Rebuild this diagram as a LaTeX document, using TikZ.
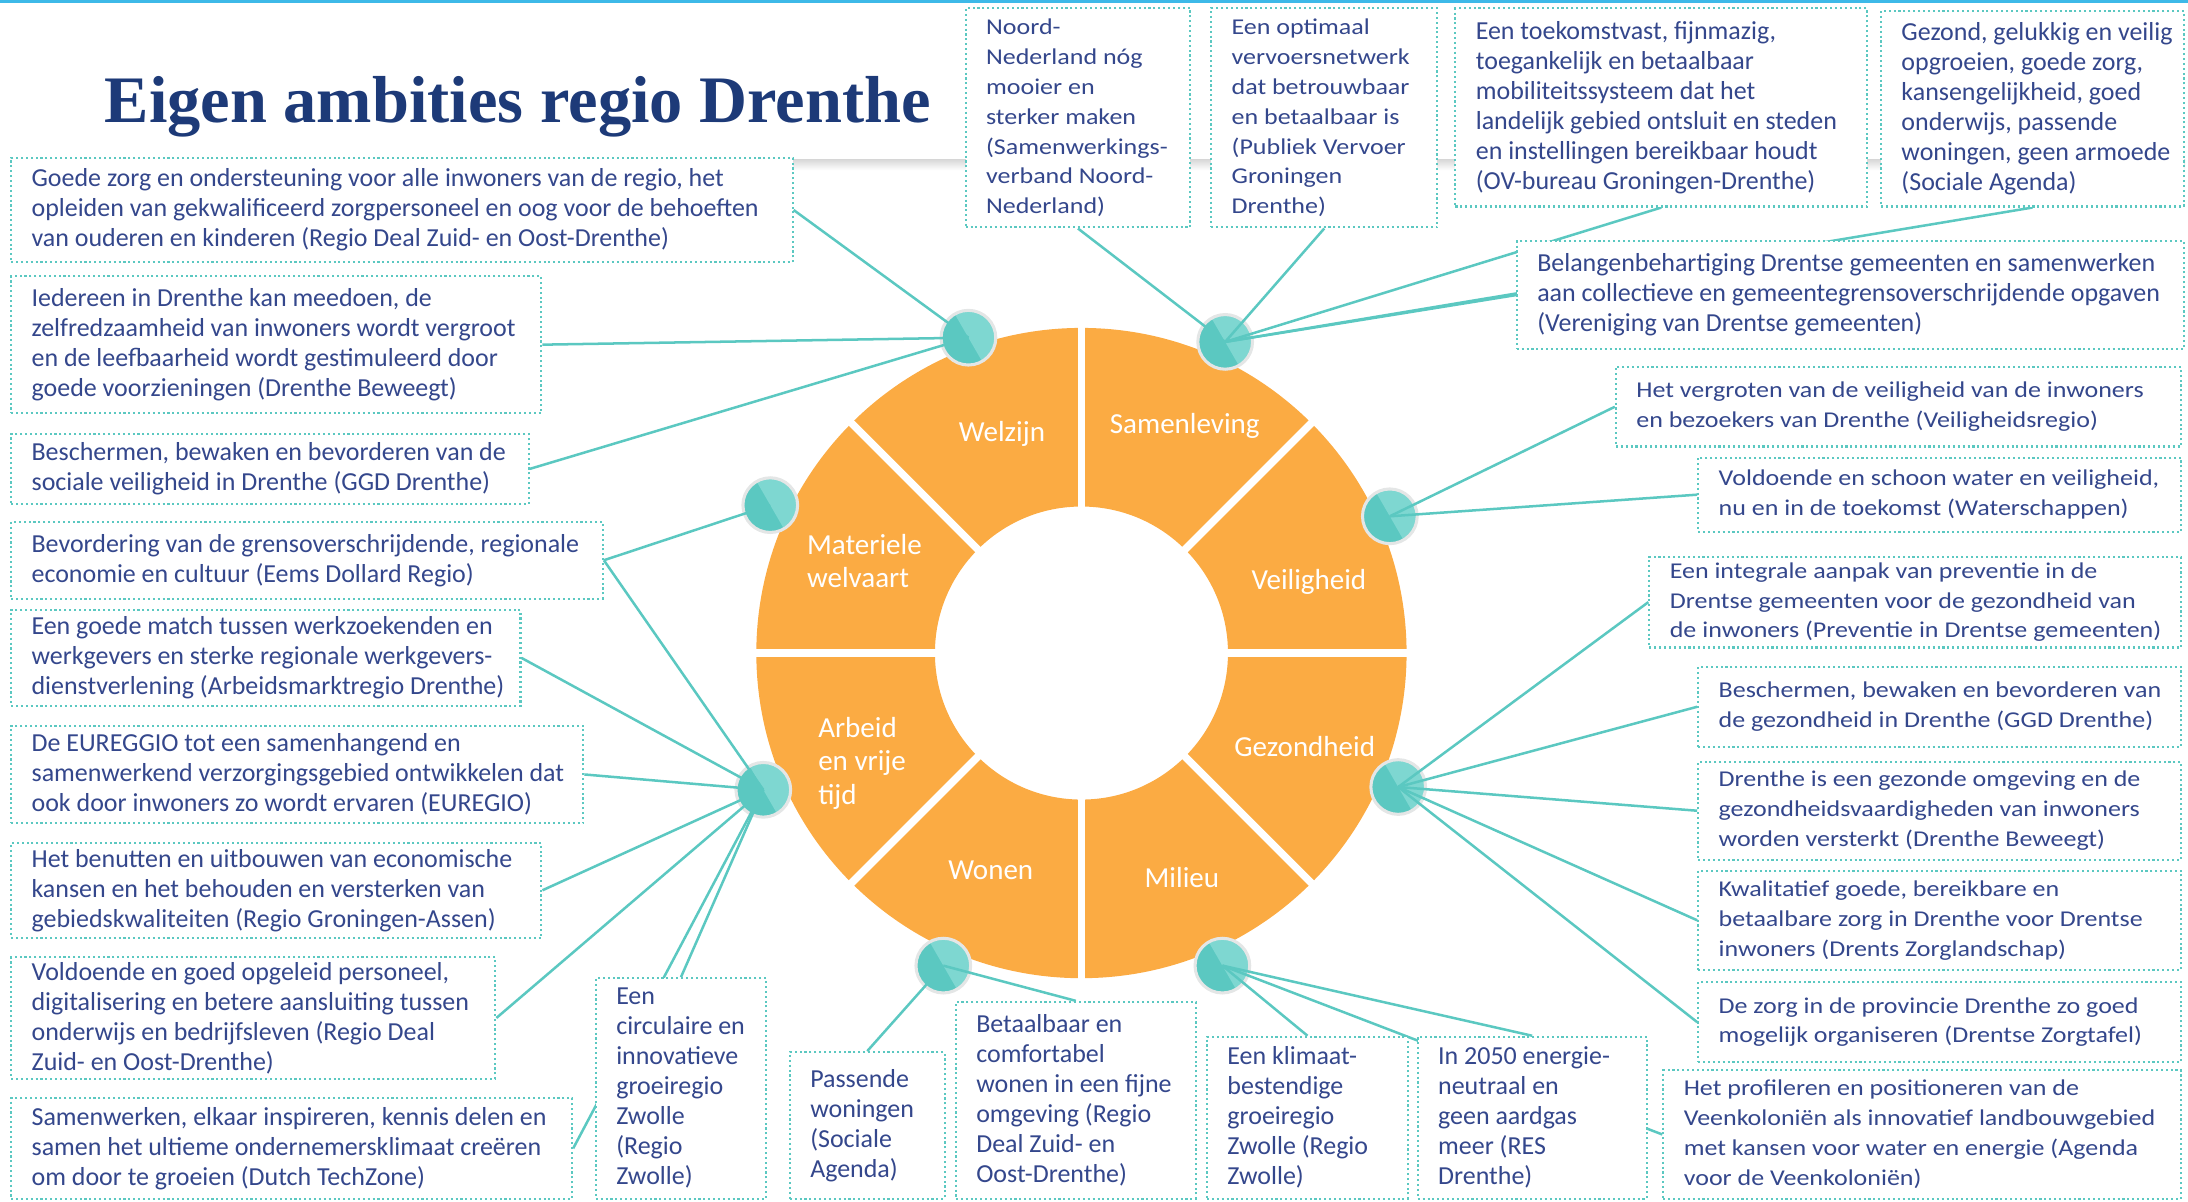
\documentclass[tikz,border=0pt]{standalone}
\usepackage{fontspec}
\setmainfont{Carlito}
\newfontfamily\widefont[FakeStretch=1.15]{Carlito}
\newfontfamily\titlefont{Liberation Serif}
\usetikzlibrary{calc}
\definecolor{tealc}{HTML}{5BC8C1}
\definecolor{teall}{HTML}{7ED7D1}
\definecolor{orangec}{HTML}{FBAB43}
\definecolor{navy}{HTML}{34478C}
\definecolor{titleblue}{HTML}{1D3A78}
\definecolor{topline}{HTML}{3DB9E8}
\definecolor{ringc}{HTML}{E4E6E6}
\pgfdeclarelayer{bg}
\pgfdeclarelayer{lines}
\pgfsetlayers{bg,lines,main}
\tikzset{
 box/.style={draw=tealc, line width=0.75pt, dash pattern=on 0.75pt off 1pt, fill=white, inner sep=0pt},
 txt/.style={text=navy, align=left, inner sep=0pt, anchor=west},
 cond/.style={font=\fontsize{9.3}{10.75}\selectfont},
 wide/.style={font=\widefont\fontsize{8.1}{10.7}\selectfont},
 conn/.style={draw=tealc, line width=0.9pt},
 hub/.style={circle, minimum size=19pt, inner sep=0pt, fill=tealc},
 seg/.style={text=white, font=\fontsize{10.4}{12}\selectfont, align=left, inner sep=0pt},
}
\newcommand\mybox[7]{%
 \pgfmathsetmacro\bxw{(#4-#2)*0.5}%
 \pgfmathsetmacro\bxh{(#5-#3)*0.5}%
 \node[box, minimum width=\bxw pt, minimum height=\bxh pt] (#1) at ({(#2+#4)/2},{(#3+#5)/2}) {};
 \node[txt,#6] (#1-t) at ([xshift=7.5pt]#1.west) {#7};}
\newcommand\hubat[3]{%
 \node[hub] (#1) at (#2,#3) {};
 \fill[teall] (#1.center) -- ++(-60:9.5pt) arc[start angle=-60, end angle=120, radius=9.5pt] -- cycle;
 \draw[ringc, line width=1.1pt] (#1.center) circle (9.8pt);}
\begin{document}
\begin{tikzpicture}[x=0.5pt, y=-0.5pt]
\useasboundingbox (0,0) rectangle (1568,861);
% ---------- boxes ----------
\mybox{N1}{692}{6}{853}{163}{wide}{Noord-\\Nederland nóg\\mooier en\\sterker maken\\(Samenwerkings-\\verband Noord-\\Nederland)}
\mybox{N2}{868}{6}{1030}{163}{wide}{Een optimaal\\vervoersnetwerk\\dat betrouwbaar\\en betaalbaar is\\(Publiek Vervoer\\Groningen\\Drenthe)}
\mybox{N3}{1043}{6}{1338}{148}{cond}{Een toekomstvast, fijnmazig,\\toegankelijk en betaalbaar\\mobiliteitssysteem dat het\\landelijk gebied ontsluit en steden\\en instellingen bereikbaar houdt\\(OV-bureau Groningen-Drenthe)}
\mybox{N4}{1348}{8}{1565}{148}{cond}{Gezond, gelukkig en veilig\\opgroeien, goede zorg,\\kansengelijkheid, goed\\onderwijs, passende\\woningen, geen armoede\\(Sociale Agenda)}
\mybox{N5}{1087}{173}{1565}{250}{cond}{Belangenbehartiging Drentse gemeenten en samenwerken\\aan collectieve en gemeentegrensoverschrijdende opgaven\\(Vereniging van Drentse gemeenten)}
\mybox{R1}{1158}{263}{1563}{320}{wide}{Het vergroten van de veiligheid van de inwoners\\en bezoekers van Drenthe (Veiligheidsregio)}
\mybox{R2}{1217}{328}{1563}{381}{wide}{Voldoende en schoon water en veiligheid,\\nu en in de toekomst (Waterschappen)}
\mybox{R3}{1182}{399}{1563}{464}{wide}{Een integrale aanpak van preventie in de\\Drentse gemeenten voor de gezondheid van\\de inwoners (Preventie in Drentse gemeenten)}
\mybox{R4}{1217}{478}{1563}{535}{wide}{Beschermen, bewaken en bevorderen van\\de gezondheid in Drenthe (GGD Drenthe)}
\mybox{R5}{1217}{546}{1563}{616}{wide}{Drenthe is een gezonde omgeving en de\\gezondheidsvaardigheden van inwoners\\worden versterkt (Drenthe Beweegt)}
\mybox{R6}{1217}{624}{1563}{695}{wide}{Kwalitatief goede, bereikbare en\\betaalbare zorg in Drenthe voor Drentse\\inwoners (Drents Zorglandschap)}
\mybox{R7}{1217}{704}{1563}{761}{wide}{De zorg in de provincie Drenthe zo goed\\mogelijk organiseren (Drentse Zorgtafel)}
\mybox{R8}{1192}{767}{1563}{859}{wide}{Het profileren en positioneren van de\\Veenkoloniën als innovatief landbouwgebied\\met kansen voor water en energie (Agenda\\voor de Veenkoloniën)}
\mybox{B1}{1016}{743}{1180}{859}{cond}{In 2050 energie-\\neutraal en\\geen aardgas\\meer (RES\\Drenthe)}
\mybox{B2}{865}{743}{1009}{859}{cond}{Een klimaat-\\bestendige\\groeiregio\\Zwolle (Regio\\Zwolle)}
\mybox{B3}{685}{718}{857}{859}{cond}{Betaalbaar en\\comfortabel\\wonen in een fijne\\omgeving (Regio\\Deal Zuid- en\\Oost-Drenthe)}
\mybox{B4}{566}{754}{677}{859}{cond}{Passende\\woningen\\(Sociale\\Agenda)}
\mybox{B5}{427}{701}{549}{859}{cond}{Een\\circulaire en\\innovatieve\\groeiregio\\Zwolle\\(Regio\\Zwolle)}
\mybox{L1}{8}{787}{410}{859}{cond}{Samenwerken, elkaar inspireren, kennis delen en\\samen het ultieme ondernemersklimaat creëren\\om door te groeien (Dutch TechZone)}
\mybox{L2}{8}{686}{355}{773}{cond}{Voldoende en goed opgeleid personeel,\\digitalisering en betere aansluiting tussen\\onderwijs en bedrijfsleven (Regio Deal\\Zuid- en Oost-Drenthe)}
\mybox{L3}{8}{604}{388}{672}{cond}{Het benutten en uitbouwen van economische\\kansen en het behouden en versterken van\\gebiedskwaliteiten (Regio Groningen-Assen)}
\mybox{L4}{8}{520}{418}{590}{cond}{De EUREGGIO tot een samenhangend en\\samenwerkend verzorgingsgebied ontwikkelen dat\\ook door inwoners zo wordt ervaren (EUREGIO)}
\mybox{L5}{8}{437}{373}{506}{cond}{Een goede match tussen werkzoekenden en\\werkgevers en sterke regionale werkgevers-\\dienstverlening (Arbeidsmarktregio Drenthe)}
\mybox{L6}{8}{374}{432}{429}{cond}{Bevordering van de grensoverschrijdende, regionale\\economie en cultuur (Eems Dollard Regio)}
\mybox{L7}{8}{311}{379}{361}{cond}{Beschermen, bewaken en bevorderen van de\\sociale veiligheid in Drenthe (GGD Drenthe)}
\mybox{L8}{8}{198}{388}{296}{cond}{Iedereen in Drenthe kan meedoen, de\\zelfredzaamheid van inwoners wordt vergroot\\en de leefbaarheid wordt gestimuleerd door\\goede voorzieningen (Drenthe Beweegt)}
\mybox{L9}{8}{113}{568}{188}{cond}{Goede zorg en ondersteuning voor alle inwoners van de regio, het\\opleiden van gekwalificeerd zorgpersoneel en oog voor de behoeften\\van ouderen en kinderen (Regio Deal Zuid- en Oost-Drenthe)}
% ---------- title ----------
\node[font=\titlefont\bfseries\fontsize{23.8}{28}\selectfont, text=titleblue, anchor=base, inner sep=0pt] (title) at (371,88) {Eigen ambities regio Drenthe};
% ---------- background: top line, shadow, wheel, hubs ----------
\begin{pgfonlayer}{bg}
\fill[topline] (0,0) rectangle (1568,2);
\shade[top color=black!16, bottom color=white] (560,114) rectangle (1566,122);
\coordinate (W) at (775,468);
\fill[orangec, even odd rule] (W) circle[radius=116.5pt] (W) circle[radius=52.5pt];
\foreach \a in {0,45,...,315} \draw[white, line width=2.7pt] ($(W)+(\a:51pt)$) -- ($(W)+(\a:118pt)$);
\node[seg] (sWel) at (718,311) {Welzijn};
\node[seg] (sSam) at (849,305) {Samenleving};
\node[seg, anchor=west] (sMat) at (578,402) {Materiele\\welvaart};
\node[seg] (sVei) at (938,417) {Veiligheid};
\node[seg, anchor=west] (sArb) at (586,547) {Arbeid\\en vrije\\tijd};
\node[seg] (sGez) at (935,535) {Gezondheid};
\node[seg] (sWon) at (710,624) {Wonen};
\node[seg] (sMil) at (847,629) {Milieu};
\hubat{hW}{694}{242}
\hubat{hS}{878}{245}
\hubat{hM}{552}{362}
\hubat{hV}{996}{370}
\hubat{hA}{547}{566}
\hubat{hG}{1002}{564}
\hubat{hWo}{676}{692}
\hubat{hMi}{876}{692}
\end{pgfonlayer}
% ---------- connectors ----------
\begin{pgfonlayer}{lines}
\foreach \b in {L9,L8,L7} \draw[conn] (hW.center) -- (\b.east);
\foreach \b in {N1,N2,N3,N4} \draw[conn] (hS.center) -- (\b.south);
\draw[conn] (hS.center) -- (N5.west);
\draw[conn] (hM.center) -- (L6.east);
\foreach \b in {L6,L5,L4,L3,L2,L1} \draw[conn] (hA.center) -- (\b.east);
\draw[conn] (hA.center) -- (B5.north);
\foreach \b in {R1,R2} \draw[conn] (hV.center) -- (\b.west);
\foreach \b in {R3,R4,R5,R6,R7} \draw[conn] (hG.center) -- (\b.west);
\foreach \b in {B4,B3} \draw[conn] (hWo.center) -- (\b.north);
\foreach \b in {B2,B1} \draw[conn] (hMi.center) -- (\b.north);
\draw[conn] (hMi.center) -- (R8.west);
\end{pgfonlayer}
\end{tikzpicture}
\end{document}
